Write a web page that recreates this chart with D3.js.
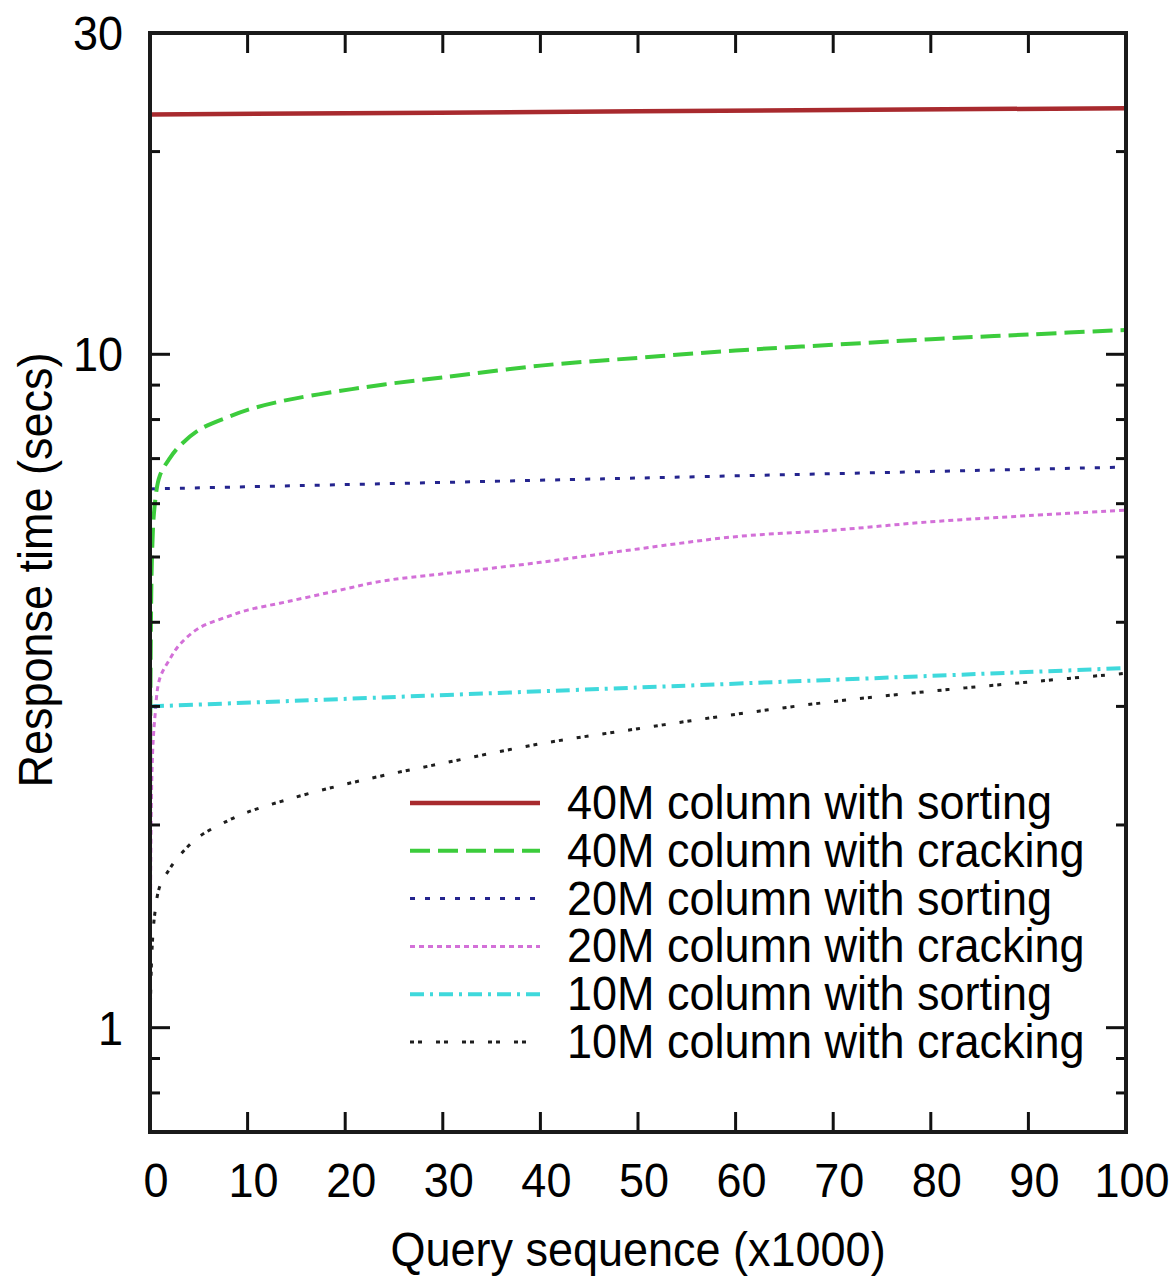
<!DOCTYPE html>
<html>
<head>
<meta charset="utf-8">
<script src="https://cdn.jsdelivr.net/npm/d3@7"></script>
<style>
body { margin:0; background:#fff; }
text { font-family: "Liberation Sans", Arial, sans-serif; fill:#000; }
</style>
</head>
<body>
<div id="divForChart"></div>
<script>
// query number in thousands
var crackX = [0, 0.2, 0.5, 1, 2, 3, 5, 8, 10, 14, 19, 24, 30, 40, 50, 60, 70, 80, 90, 100];
var sortX = [0, 50, 100];

// response time in seconds
var sort40M = [22.7, 22.95, 23.2];
var crack40M = [1.8, 5.0, 6.0, 6.6, 7.0, 7.3, 7.72, 8.07, 8.27, 8.55, 8.80, 9.02, 9.24, 9.62, 9.88, 10.13, 10.33, 10.53, 10.70, 10.87];
var sort20M = [6.31, 6.55, 6.80];
var crack20M = [0.7, 2.4, 2.89, 3.3, 3.52, 3.70, 3.92, 4.08, 4.17, 4.29, 4.45, 4.61, 4.72, 4.91, 5.14, 5.36, 5.48, 5.64, 5.76, 5.87];
var sort10M = [3.00, 3.20, 3.42];
var crack10M = [1.0, 1.3, 1.48, 1.62, 1.72, 1.80, 1.92, 2.03, 2.09, 2.18, 2.28, 2.37, 2.47, 2.64, 2.78, 2.92, 3.05, 3.16, 3.26, 3.36];

var seriesNames = ["40M column with sorting", "40M column with cracking", "20M column with sorting",
                   "20M column with cracking", "10M column with sorting", "10M column with cracking"];
var xTicks = [0, 10, 20, 30, 40, 50, 60, 70, 80, 90, 100];
var yLabelTicks = [1, 10, 30];
var yMinorTicks = [0.7, 0.8, 0.9, 2, 3, 4, 5, 6, 7, 8, 9, 20];

var width = 1173;
var height = 1277;
var plotLeft = 150, plotRight = 1126, plotTop = 33, plotBottom = 1132;
var fontSize = 45;
var stretch = 1.08;

var lines = [
	{name: seriesNames[0], xs: sortX,  ys: sort40M,  color: "#a82a2e", w: 4.5, dash: null},
	{name: seriesNames[1], xs: crackX, ys: crack40M, color: "#3ccc3c", w: 4, dash: "20,8"},
	{name: seriesNames[2], xs: sortX,  ys: sort20M,  color: "#24248e", w: 3, dash: "5,10"},
	{name: seriesNames[3], xs: crackX, ys: crack20M, color: "#d370d8", w: 3, dash: "5,4"},
	{name: seriesNames[4], xs: sortX,  ys: sort10M,  color: "#3fd9dc", w: 4, dash: "14,6,3,6"},
	{name: seriesNames[5], xs: crackX, ys: crack10M, color: "#1e1e1e", w: 3, dash: "4,4,4,14"}
];

var x = d3.scaleLinear().domain([0, 100]).range([plotLeft, plotRight]);
var y = d3.scaleLog().domain([0.7, 30]).range([plotBottom, plotTop]);

var svg = d3.select("#divForChart").append("svg")
	.attr("width", width)
	.attr("height", height);

function addText(str, tx, ty, anchor, rot)
{
	var t = svg.append("text")
		.text(str)
		.attr("text-anchor", anchor)
		.attr("transform", "translate(" + tx + "," + ty + ")" + (rot ? " rotate(" + rot + ")" : "") + " scale(1," + stretch + ")")
		.style("font-size", fontSize + "px");
	return t;
}

svg.append("clipPath").attr("id", "plotClip").append("rect")
	.attr("x", plotLeft)
	.attr("y", plotTop)
	.attr("width", plotRight - plotLeft)
	.attr("height", plotBottom - plotTop);

// data lines
var plot = svg.append("g").attr("clip-path", "url(#plotClip)");
for(var i=0;i<lines.length;i++)
{
	var s = lines[i];
	var pts = s.xs.map(function(d, j) { return [d, s.ys[j]]; });
	var gen = d3.line()
		.x(function(d) { return x(d[0]); })
		.y(function(d) { return y(d[1]); })
		.curve(d3.curveCatmullRom.alpha(0.5));
	plot.append("path")
		.attr("d", gen(pts))
		.attr("fill", "none")
		.attr("stroke", s.color)
		.attr("stroke-width", s.w)
		.attr("stroke-dasharray", s.dash);
}

// ticks, mirrored on both sides
var ticks = svg.append("g").attr("stroke", "#111").attr("stroke-width", 3);
xTicks.forEach(function(d)
{
	ticks.append("line").attr("x1", x(d)).attr("x2", x(d)).attr("y1", plotBottom).attr("y2", plotBottom - 20);
	ticks.append("line").attr("x1", x(d)).attr("x2", x(d)).attr("y1", plotTop).attr("y2", plotTop + 20);
	addText(String(d), x(d) + 6, 1197, "middle");
});
yLabelTicks.forEach(function(d)
{
	ticks.append("line").attr("x1", plotLeft).attr("x2", plotLeft + 20).attr("y1", y(d)).attr("y2", y(d));
	ticks.append("line").attr("x1", plotRight).attr("x2", plotRight - 20).attr("y1", y(d)).attr("y2", y(d));
	addText(String(d), 123, y(d) + 17, "end");
});
yMinorTicks.forEach(function(d)
{
	ticks.append("line").attr("x1", plotLeft).attr("x2", plotLeft + 10).attr("y1", y(d)).attr("y2", y(d));
	ticks.append("line").attr("x1", plotRight).attr("x2", plotRight - 10).attr("y1", y(d)).attr("y2", y(d));
});

// frame
svg.append("rect")
	.attr("x", plotLeft)
	.attr("y", plotTop)
	.attr("width", plotRight - plotLeft)
	.attr("height", plotBottom - plotTop)
	.attr("fill", "none")
	.attr("stroke", "#1a1a1a")
	.attr("stroke-width", 4);

// axis titles
addText("Query sequence (x1000)", (plotLeft + plotRight) / 2, 1266, "middle");
addText("Response time (secs)", 52, 570, "middle", -90);

// legend
for(var i=0;i<lines.length;i++)
{
	var ly = 803 + i * 47.8;
	svg.append("line")
		.attr("x1", 410)
		.attr("x2", 540)
		.attr("y1", ly)
		.attr("y2", ly)
		.attr("stroke", lines[i].color)
		.attr("stroke-width", lines[i].w)
		.attr("stroke-dasharray", lines[i].dash);
	addText(lines[i].name, 567, ly + 16, "start");
}
</script>
</body>
</html>
